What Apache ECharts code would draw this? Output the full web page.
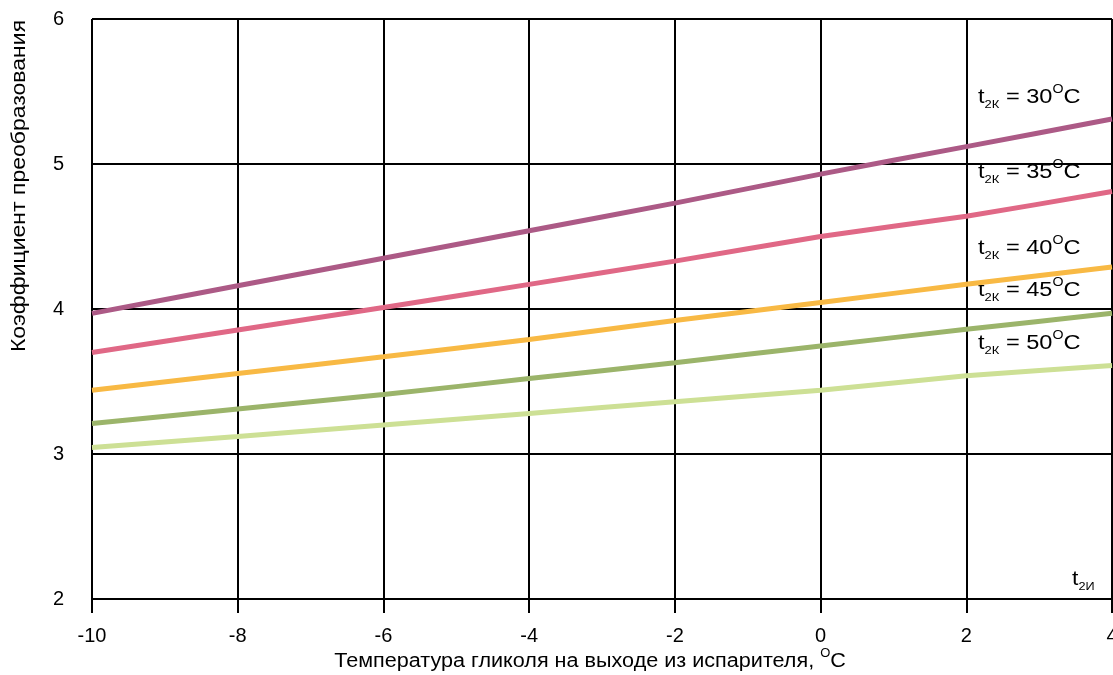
<!DOCTYPE html>
<html>
<head>
<meta charset="utf-8">
<script src="https://cdn.jsdelivr.net/npm/echarts@6/dist/echarts.min.js"></script>
<style>html,body{margin:0;padding:0;background:#fff}#c{width:1113px;height:675px}</style>
</head>
<body>
<div id="c"></div>
<script>
var xValues = [-10, -8, -6, -4, -2, 0, 2, 4];
var t30 = [3.97, 4.16, 4.35, 4.54, 4.73, 4.93, 5.12, 5.31];
var t35 = [3.70, 3.855, 4.01, 4.17, 4.33, 4.50, 4.64, 4.81];
var t40 = [3.44, 3.555, 3.67, 3.79, 3.92, 4.045, 4.17, 4.29];
var t45 = [3.21, 3.31, 3.41, 3.52, 3.63, 3.745, 3.86, 3.97];
var t50 = [3.045, 3.12, 3.20, 3.28, 3.36, 3.44, 3.54, 3.61];
var seriesNames = ['30', '35', '40', '45', '50'];
var seriesColors = ['#ac5a86', '#e06886', '#f8b944', '#9bb46a', '#cde095'];
var labelCenters = [97, 172, 248, 290, 343];

var FONT = '"Liberation Sans", Arial, sans-serif';
var allData = [t30, t35, t40, t45, t50];

function pairs(ys) { return xValues.map(function (x, i) { return [x, ys[i]]; }); }

var rich = {
  b: { fontSize: 20, fontFamily: FONT, fill: '#000', lineHeight: 26, verticalAlign: 'middle' },
  sub: { fontSize: 11, fontFamily: FONT, fill: '#000', lineHeight: 26, verticalAlign: 'bottom' },
  sup: { fontSize: 12, fontFamily: FONT, fill: '#000', lineHeight: 26, verticalAlign: 'top' }
};

var graphics = seriesNames.map(function (n, i) {
  return {
    type: 'text', x: 978, y: labelCenters[i], scaleX: 1.18,
    style: { text: '{b|t}{sub|2К}{b| = ' + n + '}{sup|O}{b|C}', rich: rich, verticalAlign: 'middle', align: 'left' }
  };
});
graphics.push({
  type: 'text', x: 1072, y: 579, scaleX: 1.15,
  style: { text: '{b|t}{sub|2И}', rich: rich, verticalAlign: 'middle', align: 'left' }
});
graphics.push({
  type: 'text', x: 19, y: 186, rotation: Math.PI / 2, scaleX: 1.15,
  style: { text: 'Коэффициент преобразования', fontSize: 20, fontFamily: FONT, fill: '#000', align: 'center', verticalAlign: 'middle' }
});
graphics.push({
  type: 'text', x: 590, y: 661, scaleX: 1.08,
  style: { text: '{n|Температура гликоля на выходе из испарителя, }{sup|O}{n|C}', align: 'center', verticalAlign: 'middle',
    rich: { n: { fontSize: 20, fontFamily: FONT, fill: '#000', lineHeight: 26, verticalAlign: 'middle' },
            sup: { fontSize: 12, fontFamily: FONT, fill: '#000', lineHeight: 26, verticalAlign: 'top' } } }
});

var chart = echarts.init(document.getElementById('c'), null, { renderer: 'canvas' });
chart.setOption({
  animation: false,
  backgroundColor: '#fff',
  grid: { left: 92, right: 1, top: 19, bottom: 76, containLabel: false, outerBoundsMode: 'none' },
  xAxis: {
    type: 'value', min: -10, max: 4, interval: 2,
    axisLine: { onZero: false, lineStyle: { color: '#000', width: 2 } },
    axisTick: { show: true, length: 14, lineStyle: { color: '#000', width: 2 } },
    axisLabel: { color: '#000', fontSize: 20, fontFamily: FONT, margin: 27 },
    splitLine: { show: true, lineStyle: { color: '#000', width: 2 } }
  },
  yAxis: {
    type: 'value', min: 2, max: 6, interval: 1,
    axisLine: { show: true, lineStyle: { color: '#000', width: 2 } },
    axisTick: { show: true, length: 14, lineStyle: { color: '#000', width: 2 } },
    axisLabel: { color: '#000', fontSize: 20, fontFamily: FONT, margin: 28 },
    splitLine: { show: true, lineStyle: { color: '#000', width: 2 } }
  },
  series: allData.map(function (d, i) {
    return {
      type: 'line', name: seriesNames[i], data: pairs(d), showSymbol: false, smooth: 0.2,
      lineStyle: { color: seriesColors[i], width: 5 }, z: 3
    };
  }),
  graphic: graphics
});
</script>
</body>
</html>
